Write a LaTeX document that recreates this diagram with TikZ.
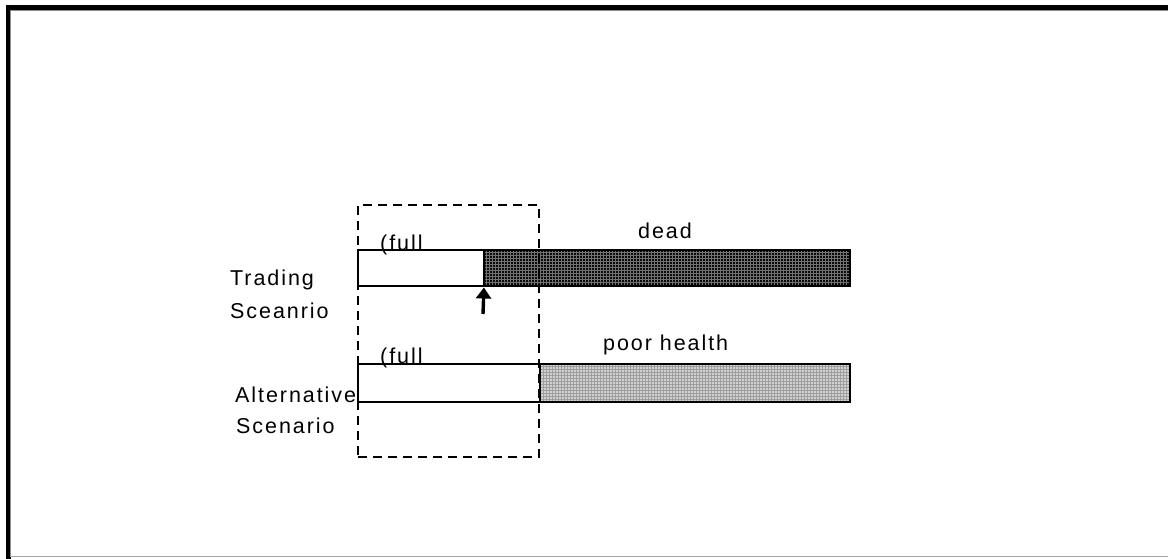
\documentclass[tikz,border=0pt]{standalone}
\usepackage{fontspec}
\setmainfont{Liberation Sans}[LetterSpace=9]
\usetikzlibrary{arrows.meta,patterns}
\begin{document}
\begin{tikzpicture}[x=1pt,y=-1pt,
  lbl/.style={font=\fontsize{21.5}{25}\selectfont, inner sep=0pt, anchor=base west},
  barbox/.style={draw=black, line width=1.7pt, inner sep=0pt, outer sep=0pt, anchor=north west},
  darkfill/.style={preaction={fill=black!96}, pattern=grid, pattern color=black!55},
  lightfill/.style={preaction={fill=black!18}, pattern=grid, pattern color=black!38},
  dashbox/.style={draw=black, line width=2.8pt, dash pattern=on 9pt off 6pt, inner sep=0pt, outer sep=0pt, anchor=north west},
  uparrow/.style={line width=3.4pt, -{Triangle[width=15pt,length=11pt]}}]
\useasboundingbox (0,0) rectangle (1168,558);
% frame
\draw[line width=5pt, line join=miter] (8,560) -- (8,7.5) -- (1170,7.5);
\draw[black!45, line width=0.8pt] (10.5,556) -- (10.5,10.4) -- (1168,10.4);
\draw[black!35, line width=1pt] (10,556.5) -- (1168,556.5);
% trading scenario bars
\node[barbox, minimum width=126pt, minimum height=36pt] (tw) at (358,250) {};
\node[barbox, darkfill, minimum width=366pt, minimum height=36pt] (td) at (484,250) {};
% alternative scenario bars
\node[barbox, minimum width=182pt, minimum height=38pt] (aw) at (358,364) {};
\node[barbox, lightfill, minimum width=310pt, minimum height=38pt] (ap) at (540,364) {};
% dashed focus box
\node[dashbox, minimum width=181pt, minimum height=252pt] (focus) at (358,205) {};
% arrow
\coordinate (arrowfoot) at (483,314);
\draw[uparrow, shorten >=1.5pt] (arrowfoot) -- (tw.south east);
% labels
\node[lbl] (full1) at (380,250.5) {(full};
\node[lbl] (full2) at (380,363.5) {(full};
\node[lbl] (dead) at (638,238) {dead};
\node[lbl] (poor) at (603,350) {poor health};
\node[lbl] (trading) at (230,285) {Trading};
\node[lbl] (sceanrio) at (230,318) {Sceanrio};
\node[lbl] (alternative) at (235,402) {Alternative};
\node[lbl] (scenario) at (236,433) {Scenario};
\end{tikzpicture}
\end{document}
